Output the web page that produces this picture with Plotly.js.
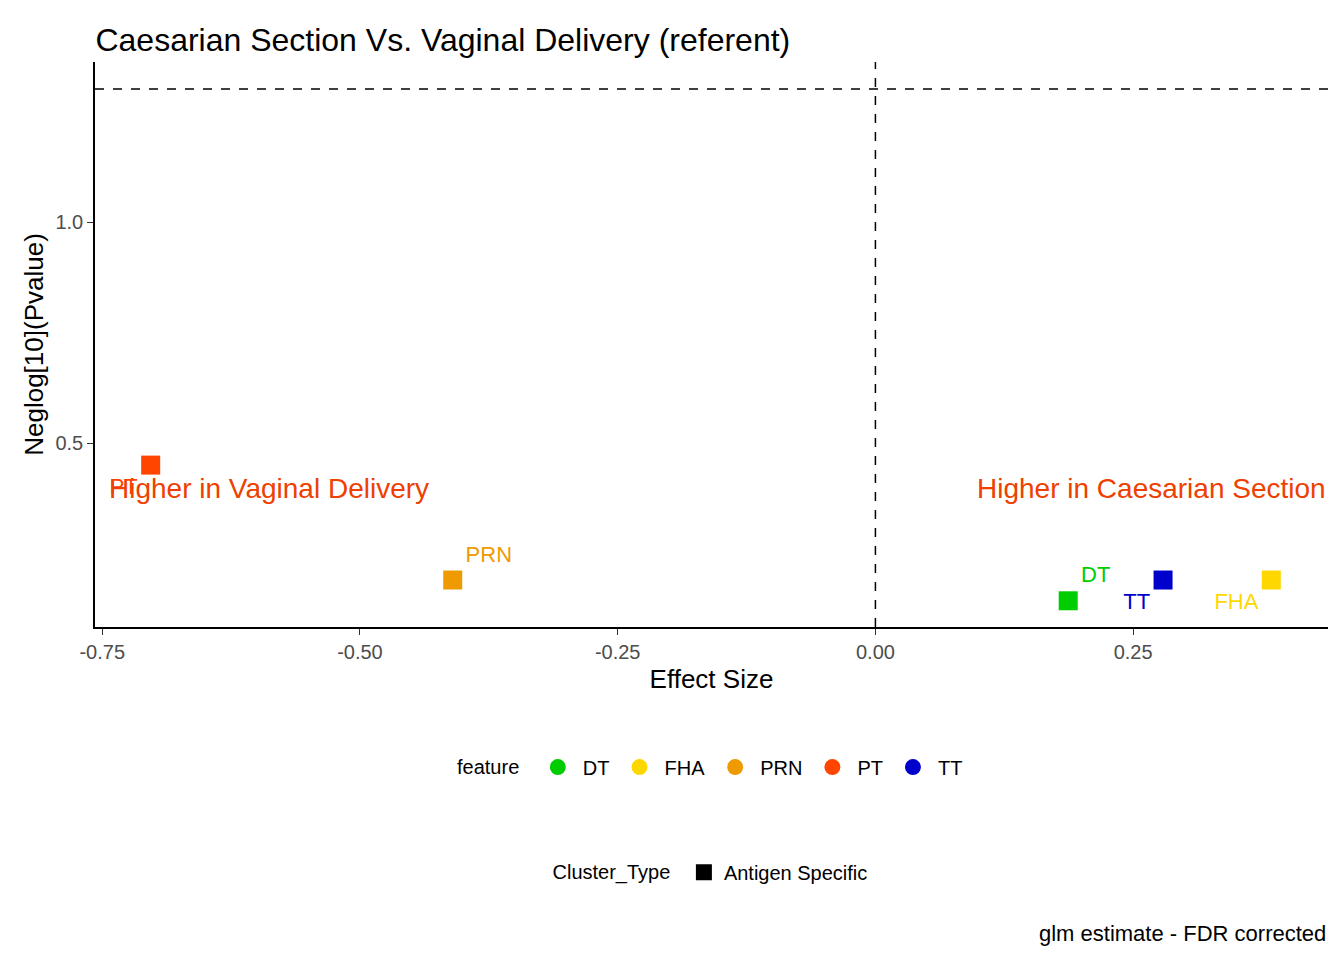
<!DOCTYPE html>
<html>
<head>
<meta charset="utf-8">
<script src="https://cdn.plot.ly/plotly-3.0.1.min.js"></script>
<style>body{margin:0;background:#fff}#graph{width:1344px;height:960px}</style>
</head>
<body>
<div id="graph"></div>
<script>
const features = ["DT", "FHA", "PRN", "PT", "TT"];
const effect = [0.187, 0.384, -0.41, -0.703, 0.279];
const neglogP = [0.143, 0.19, 0.19, 0.45, 0.19];
const colors = ["#00CD00", "#FFD700", "#EE9A00", "#FF4500", "#0000CD"];
const labelPos = ["top right", "bottom left", "top right", "bottom left", "bottom left"];

const font = "Arial, Liberation Sans, sans-serif";
const traces = [];

features.forEach((f, i) => {
  traces.push({
    x: [effect[i]], y: [neglogP[i]],
    mode: "markers+text", type: "scatter",
    text: [f], textposition: labelPos[i],
    textfont: { color: colors[i], size: 22 },
    marker: { symbol: "square", size: 19, color: colors[i] },
    name: f, showlegend: false, cliponaxis: false
  });
  // legend entry: circle
  traces.push({
    x: [null], y: [null], mode: "markers", type: "scatter",
    marker: { symbol: "circle", size: 18, color: colors[i] },
    name: f, legend: "legend"
  });
});
traces.push({
  x: [null], y: [null], mode: "markers", type: "scatter",
  marker: { symbol: "square", size: 18, color: "#000" },
  name: "Antigen Specific", legend: "legend2"
});

Plotly.newPlot("graph", traces, {
  width: 1344, height: 960,
  paper_bgcolor: "#fff", plot_bgcolor: "#fff",
  font: { family: font, color: "#000", size: 18 },
  margin: { l: 95, r: 16, t: 62, b: 333 },
  title: { text: "Caesarian Section Vs. Vaginal Delivery (referent)", x: 0.071, xanchor: "left", y: 0.97, font: { size: 32, color: "#000" } },
  xaxis: {
    range: [-0.757, 0.439], tickvals: [-0.75, -0.5, -0.25, 0, 0.25],
    ticktext: ["-0.75", "-0.50", "-0.25", "0.00", "0.25"],
    showgrid: false, zeroline: false, showline: true, linecolor: "#000", linewidth: 1.5,
    ticks: "outside", ticklen: 6, tickcolor: "#333",
    tickfont: { size: 20, color: "#4d4d4d" },
    title: { text: "Effect Size", font: { size: 26 }, standoff: 8 }
  },
  yaxis: {
    range: [0.0837, 1.362], tickvals: [0.5, 1.0], ticktext: ["0.5", "1.0"],
    showgrid: false, zeroline: false, showline: true, linecolor: "#000", linewidth: 1.5,
    ticks: "outside", ticklen: 6, tickcolor: "#333",
    tickfont: { size: 20, color: "#4d4d4d" },
    title: { text: "Neglog[10](Pvalue)", font: { size: 26 }, standoff: 4 }
  },
  shapes: [
    { type: "line", xref: "paper", x0: 0, x1: 1, yref: "y", y0: 1.301, y1: 1.301, line: { dash: "dash", color: "#000", width: 1.5 } },
    { type: "line", yref: "paper", y0: 0, y1: 1, xref: "x", x0: 0, x1: 0, line: { dash: "dash", color: "#000", width: 1.5 } }
  ],
  annotations: [
    { text: "Higher in Vaginal Delivery", x: -0.745, y: 0.398, xanchor: "left", showarrow: false, font: { size: 28, color: "#EE4000" } },
    { text: "Higher in Caesarian Section", xref: "paper", x: 1, y: 0.398, xanchor: "right", showarrow: false, font: { size: 28, color: "#EE4000" } },
    { text: "glm estimate - FDR corrected", xref: "paper", yref: "paper", x: 1, y: -0.542, xanchor: "right", yanchor: "middle", showarrow: false, font: { size: 22 } }
  ],
  legend: {
    orientation: "h", x: 0.5, xanchor: "center", y: -0.248, yanchor: "middle",
    title: { text: "feature ", font: { size: 20 } }, font: { size: 20 }, itemwidth: 40
  },
  legend2: {
    orientation: "h", x: 0.5, xanchor: "center", y: -0.434, yanchor: "middle",
    title: { text: "Cluster_Type ", font: { size: 20 } }, font: { size: 20 }
  }
}, { displayModeBar: false });
</script>
</body>
</html>
